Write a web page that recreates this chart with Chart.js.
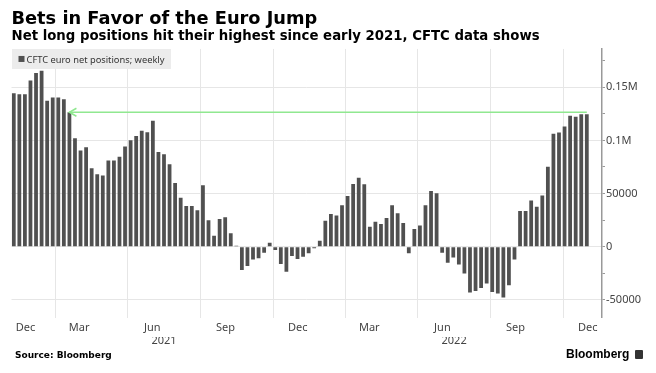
<!DOCTYPE html>
<html>
<head>
<meta charset="utf-8">
<script src="https://cdn.jsdelivr.net/npm/chart.js@4.4.1/dist/chart.umd.min.js"></script>
<style>
  body { margin: 0; background: #fff; }
  #wrap { position: relative; width: 656px; height: 373px; }
  #source {
    position: absolute; left: 15px; top: 350px;
    font: bold 9px/10px "DejaVu Sans", sans-serif; color: #000;
  }
  #brand {
    position: absolute; left: 566px; top: 348px;
    font: bold 12px/12px "Liberation Sans", sans-serif; color: #000;
  }
  #brand i {
    display: inline-block; width: 8px; height: 9px; margin-left: 6px;
    background: #333; border-radius: 1px; vertical-align: -1px;
  }
</style>
</head>
<body>
<div id="wrap">
  <canvas id="chart"></canvas>
  <div id="source">Source: Bloomberg</div>
  <div id="brand">Bloomberg<i></i></div>
</div>
<script>
/* =================================================
  Data
==================================================== */

// weekly CFTC reports, first one on this Tuesday
const firstReportDate = '2020-11-24';
const seriesLabel = 'CFTC euro net positions; weekly';

const netPositions = [
  144400, 143500, 143500, 156300, 163300, 165400, 137200, 140300, 140300, 138800,
  126500, 102000, 90400, 93600, 73800, 68200, 66900, 81000, 81000, 84700,
  94200, 100200, 104200, 109200, 107700, 118400, 89200, 87000, 77600, 60000,
  46100, 38300, 38300, 34300, 57800, 24900, 10400, 26100, 27700, 12600,
  1000, -21900, -18200, -11900, -10900, -5600, 3800, -3100, -16300, -23500,
  -8800, -11600, -9400, -6200, -1500, 5600, 24500, 30800, 29500, 39000,
  47700, 59000, 65000, 58800, 18800, 23500, 21400, 27000, 39000, 31400,
  22300, -6200, 16700, 20100, 39000, 52400, 50300, -5600, -15100, -10100,
  -16700, -25200, -43100, -41500, -38700, -34600, -42500, -44000, -47800, -36200,
  -11900, 33600, 33600, 43400, 37700, 48100, 75200, 106300, 107500, 113200,
  123300, 122300, 124500, 124500
];

// the early-2021 reading the latest week is compared with
const refIndex = 10;

const monthTickDates = ['2020-12-01', '2021-03-01', '2021-06-01', '2021-09-01', '2021-12-01',
                        '2022-03-01', '2022-06-01', '2022-09-01', '2022-12-01'];
const monthTickLabels = ['Dec', 'Mar', 'Jun', 'Sep', 'Dec', 'Mar', 'Jun', 'Sep', 'Dec'];
const yearTickDates = ['2021-06-01', '2022-06-01'];
const yearTickLabels = ['2021', '2022'];

const yTicks = [-50000, 0, 50000, 100000, 150000];
const yTickLabels = ['-50000', '0', '50000', '0.1M', '0.15M'];
const yMinorTicks = [-25000, 25000, 75000, 125000, 175000];

/* =================================================
  Helpers
==================================================== */

const weekOf = d => (Date.parse(d) - Date.parse(firstReportDate)) / 6048e5;

const xMin = -0.41;
const xMax = 105.73;
const labelShift = 2.1;

const barColor = '#505050';
const lineColor = '#90e890';
const tickFont = { family: 'Noto Sans', size: 11 };

const barPoints = netPositions.map((v, i) => ({ x: i, y: v }));
const lastIndex = netPositions.length - 1;
const refPoints = [
  { x: refIndex, y: netPositions[refIndex] },
  { x: lastIndex, y: netPositions[refIndex] }
];

/* =================================================
  Plugins: legend box and arrow head
==================================================== */

const legendBox = {
  id: 'legendBox',
  afterDatasetsDraw(chart) {
    const ctx = chart.ctx;
    const area = chart.chartArea;
    const left = area.left + 0.5;
    const top = area.top;
    ctx.save();
    ctx.font = '9.3px "Noto Sans"';
    const textWidth = ctx.measureText(seriesLabel).width;
    ctx.fillStyle = '#ececec';
    ctx.fillRect(left, top, textWidth + 21, 20);
    ctx.fillStyle = barColor;
    ctx.fillRect(left + 6.5, top + 7, 6, 6);
    ctx.fillStyle = '#333';
    ctx.textBaseline = 'alphabetic';
    ctx.fillText(seriesLabel, left + 14.5, top + 14.3);
    ctx.restore();
  }
};

const arrowHead = {
  id: 'arrowHead',
  afterDatasetsDraw(chart) {
    const pt = chart.getDatasetMeta(1).data[0];
    const ctx = chart.ctx;
    ctx.save();
    ctx.strokeStyle = lineColor;
    ctx.lineWidth = 1.5;
    ctx.beginPath();
    ctx.moveTo(pt.x + 7, pt.y - 4);
    ctx.lineTo(pt.x, pt.y);
    ctx.lineTo(pt.x + 7, pt.y + 4);
    ctx.stroke();
    ctx.restore();
  }
};

/* =================================================
  Chart
==================================================== */

const noGrid = { display: false, drawTicks: false, tickLength: 0 };

const chart = new Chart(document.getElementById('chart'), {
  type: 'bar',
  data: {
    datasets: [{
      label: seriesLabel,
      data: barPoints,
      backgroundColor: barColor,
      categoryPercentage: 1,
      barPercentage: 0.68,
      order: 1
    }, {
      type: 'line',
      label: 'ref',
      data: refPoints,
      borderColor: lineColor,
      borderWidth: 1.5,
      pointRadius: 0,
      order: 0
    }]
  },
  options: {
    responsive: true,
    maintainAspectRatio: false,
    animation: false,
    layout: {
      padding: { top: 0, left: 11.5, right: 0, bottom: 28.6 }
    },
    scales: {
      x: {
        type: 'linear',
        min: xMin,
        max: xMax,
        offset: false,
        weight: 0,
        afterBuildTicks: s => { s.ticks = monthTickDates.map(d => ({ value: weekOf(d) })); },
        ticks: { display: false },
        grid: { color: '#e6e6e6', drawTicks: false, tickLength: 0 },
        border: { display: false }
      },
      x2: {
        type: 'linear',
        position: 'bottom',
        min: xMin,
        max: xMax,
        offset: false,
        weight: 1,
        afterBuildTicks: s => {
          s.ticks = monthTickDates.map(d => ({ value: Math.max(weekOf(d) - labelShift, xMin + 2.5) }));
        },
        ticks: {
          autoSkip: false,
          maxRotation: 0,
          padding: 2.9,
          color: '#444',
          font: tickFont,
          callback: (v, i) => monthTickLabels[i]
        },
        grid: noGrid,
        border: { display: false }
      },
      x3: {
        type: 'linear',
        position: 'bottom',
        min: xMin,
        max: xMax,
        offset: false,
        weight: 2,
        afterBuildTicks: s => { s.ticks = yearTickDates.map(d => ({ value: weekOf(d) })); },
        ticks: {
          autoSkip: false,
          maxRotation: 0,
          padding: -2.9,
          color: '#444',
          font: tickFont,
          callback: (v, i) => yearTickLabels[i]
        },
        grid: noGrid,
        border: { display: false }
      },
      y: {
        position: 'right',
        min: -67000,
        max: 186000,
        afterBuildTicks: s => {
          s.ticks = yTicks.concat(yMinorTicks).sort((a, b) => a - b).map(v => ({ value: v }));
        },
        afterFit: s => { s.width = 54; },
        ticks: {
          autoSkip: false,
          padding: 1,
          color: '#444',
          font: tickFont,
          callback: v => {
            const i = yTicks.indexOf(v);
            return i >= 0 ? yTickLabels[i] : '';
          }
        },
        grid: {
          color: c => (c.tick && yTicks.includes(c.tick.value)) ? '#e6e6e6' : 'rgba(0,0,0,0)',
          tickColor: '#999',
          tickLength: 3
        },
        border: { color: '#999', width: 1.5 }
      }
    },
    plugins: {
      legend: { display: false },
      tooltip: { enabled: false },
      title: {
        display: true,
        text: 'Bets in Favor of the Euro Jump',
        align: 'start',
        color: '#000',
        font: { family: 'DejaVu Sans', weight: 'bold', size: 17.8 },
        padding: { top: 9, bottom: 0 }
      },
      subtitle: {
        display: true,
        text: 'Net long positions hit their highest since early 2021, CFTC data shows',
        align: 'start',
        color: '#000',
        font: { family: 'DejaVu Sans', weight: 'bold', size: 13.3, lineHeight: 1 },
        padding: { top: 0, bottom: 5.3 }
      }
    }
  },
  plugins: [legendBox, arrowHead]
});
</script>
</body>
</html>
